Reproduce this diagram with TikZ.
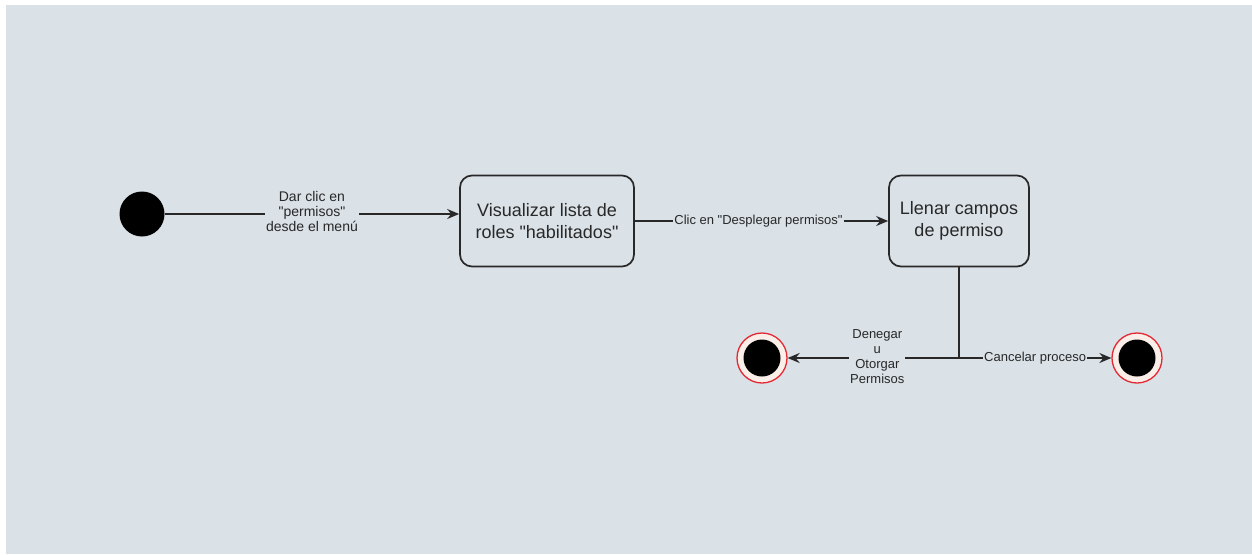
\documentclass[tikz,border=0pt]{standalone}
\usepackage{fontspec}
\setmainfont{Liberation Sans}[Ligatures=TeXOff]
\usetikzlibrary{arrows.meta}
\definecolor{canvas}{RGB}{218,225,231}
\definecolor{ink}{RGB}{40,40,40}
\definecolor{ringred}{RGB}{226,40,50}
\definecolor{ringfill}{RGB}{250,238,232}
\tikzset{
  conn/.style={draw=ink, line width=1.7pt},
  arr/.style={conn, -{Stealth[length=12pt,width=10pt,inset=4pt]}},
  statebox/.style={draw=ink, line width=1.7pt, rounded corners=12pt, fill=canvas,
    align=center, font=\fontsize{18}{21.5}\selectfont, text=ink, inner sep=0pt},
  lbl/.style={fill=canvas, align=center, font=\fontsize{13}{15}\selectfont, text=ink,
    inner sep=1pt},
  initstate/.style={circle, fill=black, minimum size=45pt, inner sep=0pt},
  finalstate/.style={circle, draw=ringred, line width=1.3pt, fill=ringfill,
    minimum size=50pt, inner sep=0pt},
}
\begin{document}
\begin{tikzpicture}[x=1pt, y=-1pt]
  % page and canvas
  \fill[white] (0,0) rectangle (1252,554);
  \fill[canvas] (6,5) rectangle (1252,554);
  \useasboundingbox (0,0) rectangle (1252,554);

  % states
  \node[initstate] (start) at (142,214) {};
  \node[statebox, minimum width=174pt, minimum height=91pt] (list) at (547,221)
    {Visualizar lista de\\roles "habilitados"};
  \node[statebox, minimum width=140pt, minimum height=91pt] (fill) at (959,221)
    {Llenar campos\\de permiso};
  \node[finalstate] (endgrant) at (762,358) {};
  \fill[black] (endgrant.center) circle (18.5);
  \node[finalstate] (endcancel) at (1137,358) {};
  \fill[black] (endcancel.center) circle (18.5);
  \coordinate (split) at (959,358);

  % transitions
  \draw[arr] (start.east) -- node[lbl, yshift=3pt, font=\fontsize{14}{15}\selectfont]
    {Dar clic en\\"permisos"\\desde el menú} (list.west |- start);
  \draw[arr] (list.east) -- node[lbl, xshift=-3pt] {Clic en "Desplegar permisos"} (fill.west);
  \draw[conn] (fill.south) -- (split);
  \draw[arr] (split) -- node[lbl, xshift=4pt, yshift=1.5pt] {Denegar\\u\\Otorgar\\Permisos} (endgrant.east);
  \draw[arr] (split) -- node[lbl] {Cancelar proceso} (endcancel.west);
\end{tikzpicture}
\end{document}
